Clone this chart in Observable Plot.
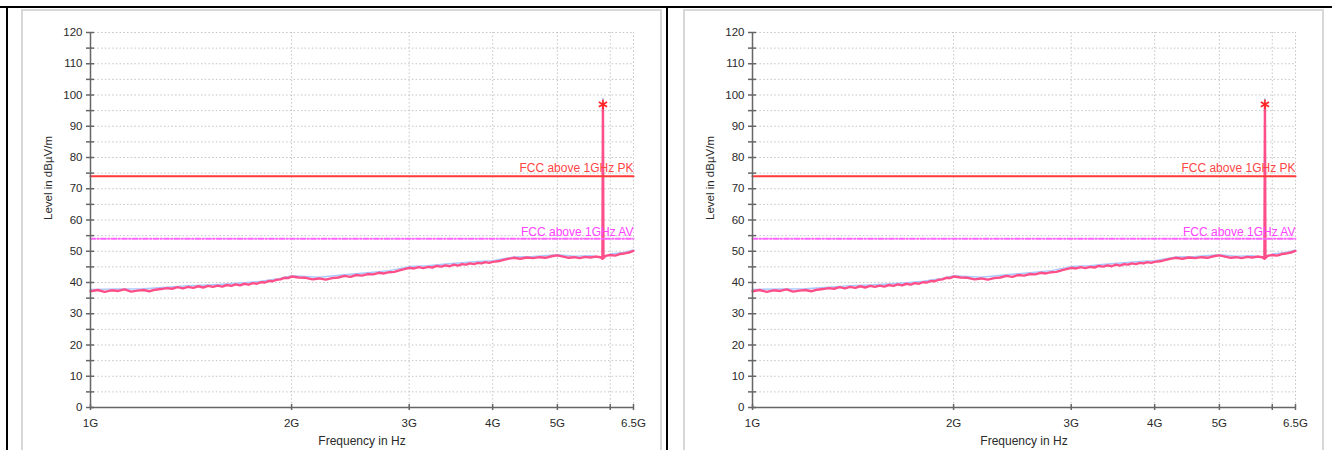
<!DOCTYPE html>
<html>
<head>
<meta charset="utf-8">
<script src="https://cdn.jsdelivr.net/npm/d3@7"></script>
<script src="https://cdn.jsdelivr.net/npm/@observablehq/plot@0.6"></script>
<style>
  body { margin: 0; background: #fff; }
  #page { position: relative; width: 1332px; height: 450px; overflow: hidden; background: #fff;
          font-family: Arial, "Liberation Sans", sans-serif; }
  .bl { position: absolute; background: #000; }
  .panel { position: absolute; top: 9px; width: 641px; height: 460px; box-sizing: border-box;
           border: 2px solid #d8d8d8; background: #fff; }
  .chart { position: absolute; top: 10px; }
</style>
</head>
<body>
<div id="page">
  <div class="bl" style="left:0;top:6px;width:1332px;height:2px;"></div>
  <div class="bl" style="left:6px;top:6px;width:2px;height:444px;"></div>
  <div class="bl" style="left:666px;top:6px;width:2px;height:444px;"></div>
  <div class="panel" style="left:21px;"></div>
  <div class="panel" style="left:683px;"></div>
  <div class="chart" id="c1" style="left:22px;"></div>
  <div class="chart" id="c2" style="left:684px;"></div>
</div>
<script>
// ---- data ----
const traceFreq = [
  1.000,1.025,1.050,1.075,1.100,1.125,1.150,1.175,1.200,1.225,1.250,1.275,1.300,1.325,1.350,1.375,1.400,1.425,1.450,1.475,
  1.500,1.525,1.550,1.575,1.600,1.625,1.650,1.675,1.700,1.725,1.750,1.775,1.800,1.825,1.850,1.875,1.900,1.925,1.950,1.975,
  2.00,2.05,2.10,2.15,2.20,2.25,2.30,2.35,2.40,2.45,2.50,2.55,2.60,2.65,2.70,2.75,2.80,2.85,2.90,2.95,
  3.00,3.05,3.10,3.15,3.20,3.25,3.30,3.35,3.40,3.45,3.50,3.55,3.60,3.65,3.70,3.75,3.80,3.85,3.90,3.95,
  4.0,4.1,4.2,4.3,4.4,4.5,4.6,4.7,4.8,4.9,5.0,5.1,5.2,5.3,5.4,5.5,5.6,5.7,5.8,5.84,5.85,5.86,5.9,6.0,6.1,6.2,6.3,6.4,6.5
];
const traceLevel = [
  37.2,37.6,37.0,37.5,37.3,37.8,37.1,37.4,37.6,37.2,37.7,37.9,38.2,38.0,38.5,38.1,38.6,38.3,38.8,38.4,
  38.9,38.6,39.0,38.7,39.2,38.9,39.4,39.1,39.6,39.3,39.8,39.6,40.1,40.0,40.5,40.4,40.9,41.0,41.5,41.4,
  41.9,41.6,41.5,41.0,41.3,40.9,41.4,41.6,42.1,41.8,42.4,42.2,42.7,42.6,43.1,42.9,43.3,43.4,43.9,44.3,
  44.7,44.5,44.9,44.6,45.0,44.8,45.3,45.1,45.5,45.2,45.7,45.4,45.9,45.7,46.1,45.9,46.3,46.1,46.5,46.3,
  46.6,46.9,47.5,47.9,47.6,48.0,47.8,48.1,47.9,48.4,48.7,48.3,47.9,48.1,47.8,48.2,48.0,48.3,48.1,47.6,97.0,47.8,48.5,48.8,48.6,49.1,49.3,49.6,50.1
];
const blueFreq = [1.0,1.1,1.2,1.3,1.4,1.5,1.6,1.7,1.8,1.9,2.0,2.2,2.4,2.6,2.8,3.0,3.2,3.4,3.6,3.8,4.0,4.3,4.6,5.0,5.3,5.6,5.84,5.85,5.86,6.0,6.25,6.5];
const blueLevel = [37.8,37.9,38.0,38.5,39.0,39.2,39.5,39.9,40.4,41.1,42.2,41.7,42.5,43.1,43.8,45.1,45.4,45.9,46.3,46.7,47.0,48.2,48.3,48.9,48.4,48.6,48.0,98.8,48.1,49.1,49.5,50.4];

const limitFreq = [1, 6.5];
const pkLevel = [74, 74];
const avLevel = [54, 54];
const pkName = "FCC above 1GHz PK";
const avName = "FCC above 1GHz AV";

const peakFreq = [5.85];
const peakLevel = [97];

const yLabelTicks = [0,10,20,30,40,50,60,70,80,90,100,110,120];
const yAllTicks = [0,5,10,15,20,25,30,35,40,45,50,55,60,65,70,75,80,85,90,95,100,105,110,115,120];
const yGrid = [5,10,15,20,25,30,35,40,45,50,55,60,65,70,75,80,85,90,95,100,105,110,115,120];
const xLabelTicks = [1,2,3,4,5,6.5];
const xTickMarks = [1,2,3,4,5,6,6.5];
const xGrid = [2,3,4,5,6,6.5];

const xTitle = "Frequency in Hz";
const yTitle = "Level in dBµV/m";

// ---- chart ----
function chart() {
  const font = 'Arial, "Liberation Sans", sans-serif';
  const grid = "#c4c4c4";
  const axisC = "#666";
  return Plot.plot({
    width: 640, height: 440,
    marginLeft: 68, marginRight: 29, marginTop: 22, marginBottom: 43,
    style: { fontFamily: font, fontSize: "11.5px", color: "#2a2a2a", background: "transparent", overflow: "visible" },
    x: { type: "log", domain: [1, 6.5] },
    y: { domain: [0, 120] },
    marks: [
      Plot.ruleY(yGrid, { x1: 1, x2: 6.5, stroke: grid, strokeWidth: 1, strokeDasharray: "1.5,2.2" }),
      Plot.ruleX(xGrid, { y1: 0, y2: 120, stroke: grid, strokeWidth: 1, strokeDasharray: "1.5,2.2" }),
      Plot.line(blueFreq, { x: d => d, y: (d, i) => blueLevel[i], stroke: "#a9c9ff", strokeWidth: 1.4 }),
      Plot.line(traceFreq, { x: d => d, y: (d, i) => traceLevel[i], stroke: "#ff4f88", strokeWidth: 2.4, strokeLinejoin: "round" }),
      Plot.line(limitFreq, { x: d => d, y: (d, i) => pkLevel[i], stroke: "#ff3a3a", strokeWidth: 2.2 }),
      Plot.line(limitFreq, { x: d => d, y: (d, i) => avLevel[i], stroke: "#ff66ff", strokeWidth: 1.8, strokeDasharray: "5,2,1.5,2" }),
      Plot.text([pkName], { x: [limitFreq[1]], y: [pkLevel[1]], text: d => d, textAnchor: "end", dy: -8, fill: "#ff4545", fontSize: 12 }),
      Plot.text([avName], { x: [limitFreq[1]], y: [avLevel[1]], text: d => d, textAnchor: "end", dy: -7, fill: "#ff44ff", fontSize: 12 }),
      Plot.dot(peakFreq, { x: d => d, y: (d, i) => peakLevel[i], symbol: "asterisk", r: 4.5, stroke: "#ff2424", strokeWidth: 1.6 }),
      Plot.ruleX([1], { y1: 0, y2: 120, stroke: axisC, strokeWidth: 1.5 }),
      Plot.ruleY([0], { x1: 1, x2: 6.5, stroke: axisC, strokeWidth: 1.5 }),
      Plot.ruleY(yAllTicks, { x1: 1, x2: 1, insetLeft: -4, insetRight: -4, stroke: axisC, strokeWidth: 1.5 }),
      Plot.ruleX(xTickMarks, { y1: 0, y2: 0, insetTop: -3, insetBottom: -3, stroke: axisC, strokeWidth: 1.5 }),
      Plot.axisY({ ticks: yLabelTicks, tickSize: 0, tickPadding: 8, label: null, fontSize: 11.5, fill: "#2a2a2a" }),
      Plot.axisX({ ticks: xLabelTicks, tickSize: 0, tickPadding: 11, tickFormat: d => d + "G", label: null, fontSize: 11.5, fill: "#2a2a2a" }),
      Plot.text([xTitle], { frameAnchor: "bottom", text: d => d, dy: 37, fontSize: 12, fill: "#2a2a2a" }),
      Plot.text([yTitle], { frameAnchor: "left", text: d => d, dx: -42, rotate: -90, fontSize: 11.5, fill: "#2a2a2a" })
    ]
  });
}
document.getElementById("c1").appendChild(chart());
document.getElementById("c2").appendChild(chart());
</script>
</body>
</html>
